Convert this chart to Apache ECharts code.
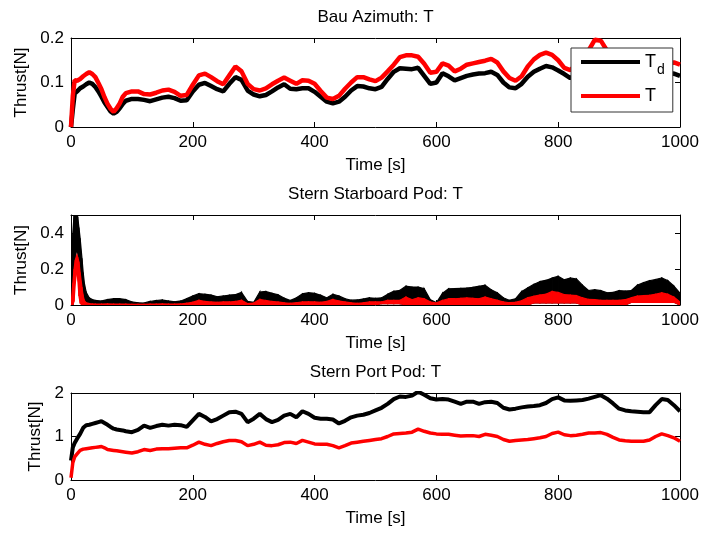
<!DOCTYPE html>
<html>
<head>
<meta charset="utf-8">
<script src="https://cdn.jsdelivr.net/npm/echarts@6/dist/echarts.min.js"></script>
<style>
  html, body { margin: 0; padding: 0; background: #fff; }
  #chart { width: 705px; height: 536px; }
</style>
</head>
<body>
<div id="chart"></div>
<script>
// ---- Bau azimuth thruster (time in s, thrust in N) ----
const timeBau = [0,3,6,10,15,20,25,30,35,40,45,50,55,60,65,70,75,80,85,90,
  100,110,120,130,140,150,160,170,180,190,200,210,220,230,240,250,260,270,280,290,
  300,310,320,330,340,350,360,370,380,390,400,410,420,430,440,450,460,470,480,490,
  500,510,520,530,540,550,560,570,580,590,600,610,620,630,640,650,660,670,680,690,
  700,710,720,730,740,750,760,770,780,790,800,810,820,830,840,850,860,870,880,890,
  900,910,920,930,940,950,960,970,980,990,1000];
const bauTd = [0,0.04,0.075,0.08,0.087,0.091,0.096,0.100,0.097,0.09,0.08,0.068,0.055,0.045,0.035,0.030,0.034,0.042,0.052,0.059,
  0.063,0.063,0.061,0.058,0.062,0.066,0.068,0.065,0.059,0.060,
  0.080,0.095,0.099,0.092,0.085,0.080,0.097,0.112,0.106,0.082,
  0.073,0.069,0.072,0.080,0.089,0.096,0.086,0.085,0.087,0.087,
  0.079,0.068,0.057,0.053,0.057,0.068,0.082,0.092,0.091,0.087,
  0.085,0.090,0.108,0.124,0.132,0.131,0.130,0.133,0.115,0.097,
  0.100,0.121,0.114,0.105,0.110,0.115,0.118,0.120,0.121,0.124,
  0.117,0.100,0.089,0.087,0.097,0.113,0.124,0.131,0.137,0.134,
  0.127,0.119,0.110,0.118,0.132,0.145,0.155,0.158,0.150,0.138,
  0.132,0.128,0.125,0.123,0.125,0.122,0.118,0.115,0.118,0.120,0.115];
const bauT = [0,0.07,0.105,0.104,0.108,0.114,0.119,0.123,0.119,0.112,0.099,0.085,0.067,0.052,0.041,0.034,0.042,0.053,0.068,0.076,
  0.080,0.080,0.074,0.073,0.077,0.082,0.084,0.079,0.070,0.072,
  0.095,0.116,0.120,0.112,0.103,0.096,0.116,0.136,0.125,0.097,
  0.085,0.082,0.087,0.096,0.104,0.111,0.104,0.097,0.105,0.104,
  0.097,0.081,0.066,0.063,0.070,0.086,0.100,0.112,0.112,0.107,
  0.103,0.111,0.125,0.140,0.157,0.161,0.161,0.158,0.142,0.122,
  0.124,0.143,0.138,0.125,0.131,0.140,0.143,0.146,0.149,0.153,
  0.145,0.125,0.110,0.104,0.114,0.136,0.152,0.162,0.167,0.162,
  0.150,0.133,0.128,0.140,0.160,0.172,0.196,0.194,0.172,0.165,
  0.158,0.152,0.150,0.148,0.150,0.147,0.142,0.138,0.143,0.145,0.140];

// ---- Stern starboard pod: noisy signals kept as lower/upper envelopes ----
const timeStb = [0,3,5,7,9,11,13,15,18,20,22,25,30,35,40,
  50,60,70,80,90,100,110,120,130,140,150,160,170,180,190,
  200,210,220,230,240,250,260,270,280,290,300,310,320,330,340,350,360,370,380,390,
  400,410,420,430,440,450,460,470,480,490,500,510,520,530,540,550,560,570,580,590,
  600,610,620,630,640,650,660,670,680,690,700,710,720,730,740,750,760,770,780,790,
  800,810,820,830,840,850,860,870,880,890,900,910,920,930,940,950,960,970,980,990,1000];
const stbTdHi = [0.1,0.4,0.5,0.5,0.5,0.49,0.43,0.37,0.26,0.18,0.12,0.07,0.04,0.03,0.025,
  0.022,0.03,0.035,0.035,0.03,0.017,0.012,0.011,0.02,0.025,0.028,0.022,0.018,0.022,0.035,
  0.05,0.063,0.06,0.055,0.046,0.05,0.055,0.058,0.07,0.02,0.015,0.072,0.075,0.065,0.057,0.038,0.025,0.04,0.062,0.068,
  0.065,0.055,0.04,0.06,0.05,0.035,0.027,0.028,0.033,0.04,0.037,0.04,0.06,0.076,0.081,0.105,0.1,0.1,0.09,0.03,
  0.013,0.065,0.09,0.091,0.092,0.094,0.098,0.104,0.11,0.085,0.068,0.04,0.026,0.035,0.075,0.095,0.115,0.13,0.137,0.15,
  0.16,0.14,0.15,0.145,0.11,0.081,0.085,0.08,0.068,0.07,0.08,0.078,0.08,0.11,0.124,0.135,0.142,0.15,0.135,0.105,0.065];
const stbTdLo = [0,0,0.12,0.26,0.3,0.29,0.2,0.1,0.04,0.02,0.01,0,0,0,0,
  0,0,0,0,0,0,0,0,0,0,0,0,0,0,0,
  0,0,0,0,0,0,0,0,0,0,0,0,0,0,0,0,0,0,0,0,
  0,0,0,0,0,0,0,0,0,0,0,0.008,0.008,0.008,0.008,0,0,0,0,0,
  0,0,0,0,0,0,0,0,0,0,0,0,0,0,0,0,0.012,0.012,0.012,0.012,
  0.012,0.012,0.012,0.012,0,0,0,0,0,0,0,0,0.015,0.015,0.015,0.015,0.015,0.015,0.015,0.015,0];
const stbTHi = [0,0.12,0.2,0.25,0.27,0.265,0.24,0.18,0.1,0.05,0.025,0.012,0.008,0.006,0.005,
  0.005,0.006,0.005,0.005,0.005,0.004,0.004,0.004,0.005,0.005,0.006,0.005,0.005,0.006,0.01,
  0.015,0.026,0.02,0.017,0.015,0.017,0.017,0.02,0.026,0.008,0.01,0.031,0.025,0.02,0.017,0.012,0.009,0.013,0.017,0.018,
  0.017,0.015,0.02,0.031,0.022,0.017,0.012,0.009,0.012,0.017,0.017,0.017,0.026,0.026,0.026,0.044,0.03,0.04,0.035,0.017,
  0.011,0.025,0.035,0.035,0.037,0.039,0.037,0.035,0.044,0.035,0.026,0.017,0.013,0.015,0.024,0.04,0.048,0.055,0.06,0.075,
  0.07,0.057,0.055,0.052,0.04,0.031,0.03,0.026,0.026,0.026,0.026,0.03,0.04,0.05,0.052,0.054,0.06,0.068,0.06,0.044,0.017];
const stbTLo = [0,0,0.02,0.12,0.18,0.15,0.05,0.01,0,0,0,0,0,0,0,
  0,0,0,0,0,0,0,0,0,0,0,0,0,0,0,
  0,0,0,0,0,0,0,0,0,0,0,0,0,0,0,0,0,0,0,0,
  0,0,0,0,0,0,0,0,0,0,0,0.008,0.008,0.008,0.008,0,0,0,0,0,
  0,0,0,0,0,0,0,0,0,0,0,0,0,0,0,0,0.012,0.012,0.012,0.012,
  0.012,0.012,0.012,0.012,0,0,0,0,0,0,0,0,0.015,0.015,0.015,0.015,0.015,0.015,0.015,0.015,0];

// ---- Stern port pod ----
const timePort = timeBau;
const portTd = [0.45,0.75,0.85,0.95,1.06,1.2,1.26,1.27,1.29,1.31,1.33,1.35,1.31,1.27,1.22,1.18,1.16,1.15,1.14,1.12,
  1.10,1.15,1.25,1.20,1.24,1.27,1.25,1.27,1.26,1.22,
  1.37,1.52,1.45,1.35,1.40,1.48,1.56,1.57,1.52,1.33,
  1.41,1.52,1.40,1.33,1.38,1.48,1.52,1.44,1.58,1.52,
  1.43,1.41,1.41,1.39,1.30,1.36,1.44,1.48,1.50,1.54,
  1.60,1.66,1.75,1.86,1.92,1.91,1.94,2.03,1.96,1.88,
  1.85,1.86,1.85,1.80,1.75,1.80,1.80,1.75,1.79,1.80,
  1.77,1.66,1.62,1.64,1.67,1.69,1.70,1.72,1.77,1.86,
  1.90,1.83,1.82,1.83,1.84,1.87,1.91,1.95,1.87,1.76,
  1.64,1.60,1.58,1.57,1.56,1.56,1.72,1.86,1.84,1.72,1.58];
const portT = [0.05,0.4,0.53,0.6,0.68,0.71,0.72,0.73,0.74,0.75,0.76,0.77,0.74,0.70,0.69,0.68,0.67,0.66,0.65,0.64,
  0.62,0.65,0.70,0.68,0.71,0.72,0.72,0.73,0.74,0.74,
  0.80,0.87,0.82,0.79,0.84,0.88,0.91,0.91,0.88,0.79,
  0.82,0.87,0.80,0.79,0.81,0.86,0.87,0.84,0.91,0.87,
  0.83,0.82,0.82,0.79,0.74,0.79,0.85,0.87,0.89,0.91,
  0.93,0.95,1.0,1.06,1.07,1.08,1.10,1.17,1.12,1.08,
  1.06,1.05,1.05,1.03,1.01,1.02,1.02,1.00,1.05,1.03,
  1.00,0.93,0.89,0.91,0.92,0.93,0.95,0.97,1.0,1.07,
  1.10,1.04,1.02,1.03,1.05,1.08,1.08,1.09,1.05,0.98,
  0.92,0.90,0.89,0.89,0.89,0.92,1.00,1.06,1.02,0.97,0.89];

// ---- axis / layout settings ----
const titles = ['Bau Azimuth: T', 'Stern Starboard Pod: T', 'Stern Port Pod: T'];
const timeTicks = { min: 0, max: 1000, interval: 200 };
const yRanges = [
  { min: 0, max: 0.2, interval: 0.1 },
  { min: 0, max: 0.5, interval: 0.2 },
  { min: 0, max: 2, interval: 1 }
];

const FONT = '"Liberation Sans", Arial, Helvetica, sans-serif';
const AX = '#000';
const grids = [
  { left: 71, top: 38, width: 609, height: 89 },
  { left: 71, top: 215, width: 609, height: 90 },
  { left: 71, top: 393, width: 609, height: 87 }
];
const titleTops = [9, 186, 364];
const yNameGaps = [40, 40, 27];
const plainNum = v => String(+v.toFixed(6));

const pairs = (t, v) => t.map((x, i) => [x, v[i]]);

const xAxes = [], yAxes = [];
grids.forEach((g, i) => {
  const tick = { show: true, inside: true, length: 5, lineStyle: { color: AX, width: 1 } };
  const line = { show: true, onZero: false, lineStyle: { color: AX, width: 1 } };
  xAxes.push({
    type: 'value', gridIndex: i, position: 'bottom', ...timeTicks,
    axisLine: line, axisTick: tick, splitLine: { show: false },
    axisLabel: { color: '#000', fontSize: 17, fontFamily: FONT, margin: 7, formatter: plainNum },
    name: 'Time [s]', nameLocation: 'middle', nameGap: 30,
    nameTextStyle: { color: '#000', fontSize: 17, fontFamily: FONT }
  });
  xAxes.push({
    type: 'value', gridIndex: i, position: 'top', ...timeTicks,
    axisLine: line, axisTick: tick, splitLine: { show: false }, axisLabel: { show: false }
  });
  yAxes.push({
    type: 'value', gridIndex: i, position: 'left', ...yRanges[i],
    axisLine: line, axisTick: tick, splitLine: { show: false },
    axisLabel: { color: '#000', fontSize: 17, fontFamily: FONT, margin: 7, showMaxLabel: i !== 1, formatter: plainNum },
    name: 'Thrust[N]', nameLocation: 'middle', nameGap: yNameGaps[i],
    nameTextStyle: { color: '#000', fontSize: 17, fontFamily: FONT }
  });
  yAxes.push({
    type: 'value', gridIndex: i, position: 'right', ...yRanges[i],
    axisLine: line, axisTick: tick, splitLine: { show: false }, axisLabel: { show: false }
  });
});

const lineSeries = (name, gi, t, v, color, width) => ({
  name, type: 'line', xAxisIndex: 2 * gi, yAxisIndex: 2 * gi,
  data: pairs(t, v), symbol: 'none', showSymbol: false, color,
  lineStyle: { color, width }, emphasis: { disabled: true }, animation: false
});

// Filled envelope between lower and upper traces, drawn segment by segment
const bandSeries = (name, gi, t, lo, hi, color) => ({
  name, type: 'custom', xAxisIndex: 2 * gi, yAxisIndex: 2 * gi, color,
  data: t.map((x, i) => [x, lo[i], hi[i]]),
  encode: { x: 0, y: [1, 2] },
  clip: true, animation: false, silent: true,
  renderItem: (params, api) => {
    const i = params.dataIndexInside;
    if (i >= params.dataInsideLength - 1) return null;
    const a = [api.value(0, i), api.value(1, i), api.value(2, i)];
    const b = [api.value(0, i + 1), api.value(1, i + 1), api.value(2, i + 1)];
    const points = [
      api.coord([a[0], a[1]]), api.coord([b[0], b[1]]),
      api.coord([b[0], b[2]]), api.coord([a[0], a[2]])
    ];
    return {
      type: 'polygon', shape: { points },
      style: { fill: color, stroke: color, lineWidth: 1.2 }
    };
  }
});

const option = {
  backgroundColor: '#fff',
  animation: false,
  textStyle: { fontFamily: FONT },
  title: titles.map((text, i) => ({
    text, left: 375.5, top: titleTops[i], textAlign: 'center', padding: 0,
    textStyle: { color: '#000', fontSize: 17, fontWeight: 'normal', fontFamily: FONT }
  })),
  grid: grids,
  xAxis: xAxes,
  yAxis: yAxes,
  legend: {
    data: [{ name: 'T_d', icon: 'rect' }, { name: 'T', icon: 'rect' }],
    orient: 'vertical', left: 571, top: 48,
    padding: [5, 8, 7, 10], itemGap: 10,
    itemWidth: 59, itemHeight: 4,
    backgroundColor: '#fff', borderColor: '#333', borderWidth: 1, borderRadius: 0,
    selectedMode: false,
    formatter: n => n === 'T_d' ? '{t|T}{d|d}' : '{t|T}',
    textStyle: {
      rich: {
        t: { fontSize: 18, lineHeight: 18, verticalAlign: 'top', color: '#000', fontFamily: FONT },
        d: { fontSize: 14, lineHeight: 14, verticalAlign: 'top', padding: [10, 0, 0, 1], color: '#000', fontFamily: FONT }
      }
    }
  },
  series: [
    lineSeries('T_d', 0, timeBau, bauTd, '#000000', 4.5),
    lineSeries('T', 0, timeBau, bauT, '#ff0000', 4.5),
    bandSeries('T_d', 1, timeStb, stbTdLo, stbTdHi, '#000000'),
    bandSeries('T', 1, timeStb, stbTLo, stbTHi, '#ff0000'),
    lineSeries('T_d', 2, timePort, portTd, '#000000', 4),
    lineSeries('T', 2, timePort, portT, '#ff0000', 3.5)
  ]
};

const chart = echarts.init(document.getElementById('chart'), null, { renderer: 'canvas' });
chart.setOption(option);
</script>
</body>
</html>
